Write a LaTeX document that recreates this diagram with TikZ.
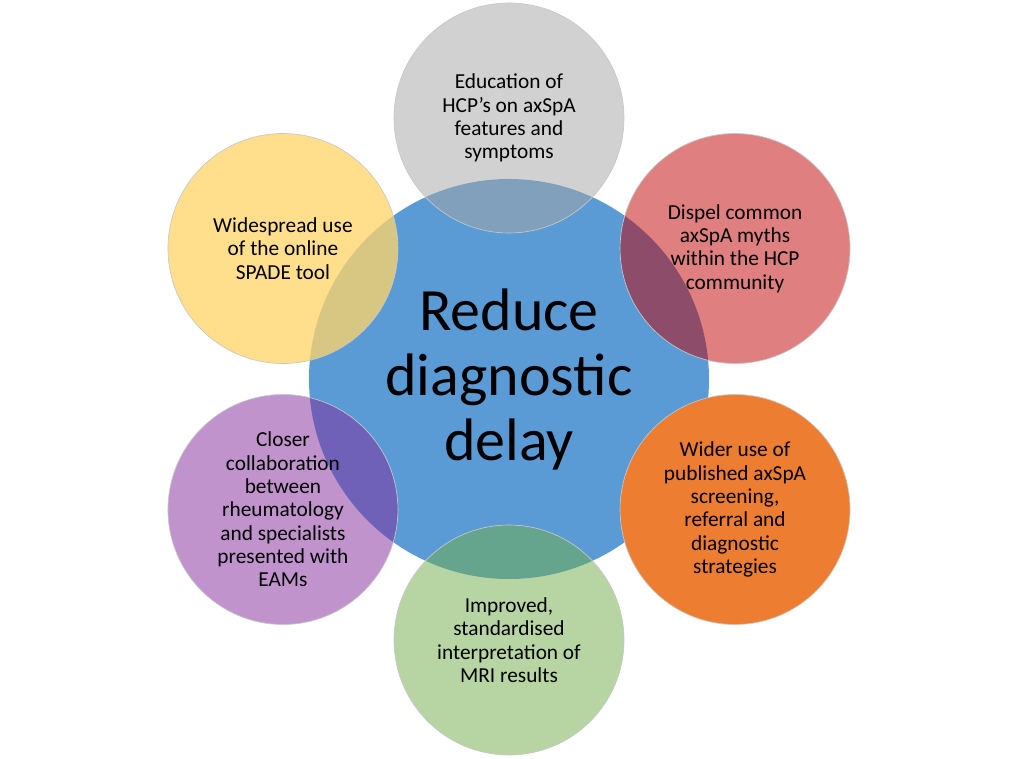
\documentclass[tikz,border=0pt]{standalone}
\usepackage{fontspec}
\setmainfont{Carlito}
\usepackage{tikz}
\definecolor{hubblue}{RGB}{91,155,213}
\definecolor{edugrey}{RGB}{165,165,165}
\definecolor{mythred}{RGB}{192,0,0}
\definecolor{screenorange}{RGB}{237,125,49}
\definecolor{mrigreen}{RGB}{112,173,71}
\definecolor{eampurple}{RGB}{130,40,155}
\definecolor{spadeyellow}{RGB}{255,214,104}
\tikzset{
hub/.style={circle, fill=hubblue, minimum size=300pt, inner sep=0pt,
  align=center, font=\fontsize{45}{48.75}\selectfont},
bubble/.style={circle, draw=black!22, line width=0.5pt, minimum size=172.5pt,
  inner sep=0pt, align=center, text opacity=1,
  font=\fontsize{16}{17.5}\selectfont},
half/.style={fill opacity=0.5}
}

\begin{document}
\begin{tikzpicture}[x=0.75pt,y=0.75pt]
\fill[white] (-509,-379) rectangle (509,379);
\node[hub] (delay) at (0,0) {Reduce\\diagnostic\\delay};
\node[bubble,half,fill=edugrey] (edu) at (90:261)
  {Education of\\HCP’s on axSpA\\features and\\symptoms};
\node[bubble,half,fill=mythred] (myth) at (30:261)
  {Dispel common\\axSpA myths\\within the HCP\\community};
\node[bubble,fill=screenorange] (screen) at (-30:261)
  {Wider use of\\published axSpA\\screening,\\referral and\\diagnostic\\strategies};
\node[bubble,half,fill=mrigreen] (mri) at (-90:261)
  {Improved,\\standardised\\interpretation of\\MRI results};
\node[bubble,half,fill=eampurple] (eam) at (-150:261)
  {Closer\\collaboration\\between\\rheumatology\\and specialists\\presented with\\EAMs};
\node[bubble,fill=spadeyellow,fill opacity=0.76] (spade) at (150:261)
  {Widespread use\\of the online\\SPADE tool};
\end{tikzpicture}
\end{document}
